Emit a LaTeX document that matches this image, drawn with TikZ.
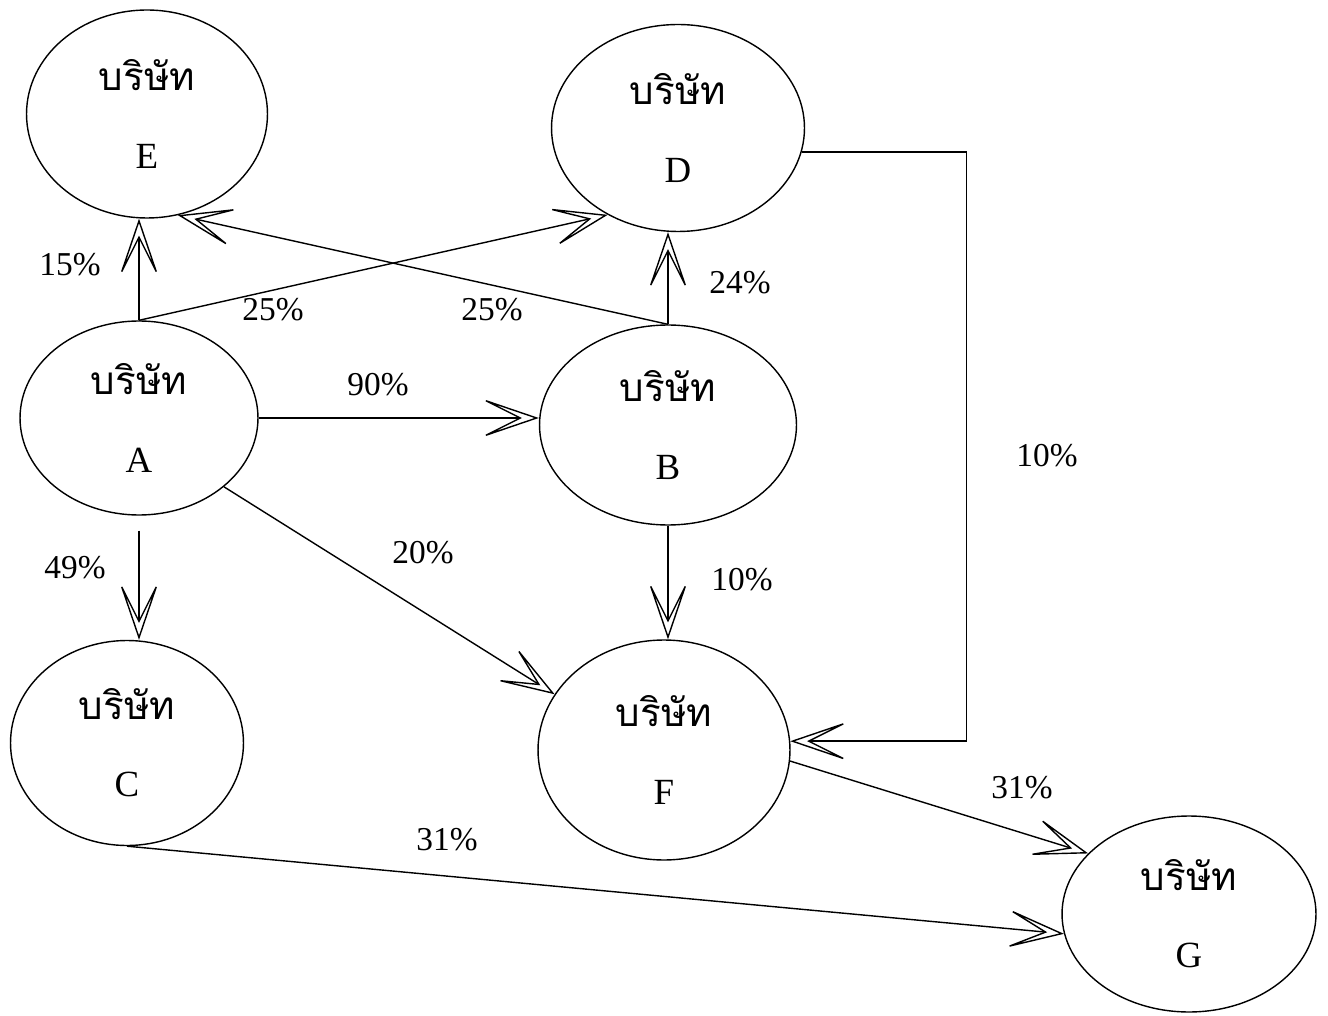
\documentclass[tikz,border=0pt]{standalone}
\usepackage{fontspec}
\setmainfont{Liberation Serif}
\newfontfamily\thaifont[Script=Thai]{Loma}
\usetikzlibrary{shapes.geometric,arrows.meta}
\tikzset{
  comp/.style={draw, line width=0.8pt, ellipse, inner sep=0pt, align=center, font=\fontsize{21}{24}\selectfont},
  arr/.style={line width=0.8pt, -{Stealth[open,length=1.25cm,width=0.85cm,inset=0.85cm]}},
  pct/.style={font=\fontsize{19}{22}\selectfont}
}
\newcommand{\compname}[1]{{\thaifont\fontsize{22}{24}\selectfont บริษัท}\\[7mm]#1}
\begin{document}
\begin{tikzpicture}[x=0.02cm,y=-0.02cm]
\useasboundingbox (0,0) rectangle (1328,1016);
% companies
\node[comp, minimum width=4.82cm, minimum height=4.16cm] (E) at (147,114) {\compname{E}};
\node[comp, minimum width=5.06cm, minimum height=4.14cm] (D) at (678,128) {\compname{D}};
\node[comp, minimum width=4.76cm, minimum height=3.88cm] (A) at (139,418) {\compname{A}};
\node[comp, minimum width=5.14cm, minimum height=4.0cm] (B) at (668,425) {\compname{B}};
\node[comp, minimum width=4.66cm, minimum height=4.1cm] (C) at (127,743) {\compname{C}};
\node[comp, minimum width=5.04cm, minimum height=4.4cm] (F) at (664,750) {\compname{F}};
\node[comp, minimum width=5.08cm, minimum height=3.92cm] (G) at (1189,914) {\compname{G}};
% connectors
\draw[arr] (A.north) -- (A.north |- E.south);
\draw[arr] (A.north) -- (D.231);
\draw[arr] (B.north) -- (E.287);
\draw[arr] (B.north) -- (B.north |- D.south);
\draw[arr] (A.east) -- (A.east -| B.west);
\draw[arr] (A.321) -- (F.153);
\draw[arr, shorten <=0.3cm] (A.south) -- (A.south |- C.north);
\draw[arr] (B.south) -- (B.south |- F.north);
\draw[arr] (D.349) -- ++(165,0) |- (F.4);
\draw[arr] (F.355) -- (G.149);
\draw[arr] (C.south) -- (G.189);
% labels
\node[pct] (l15) at (70,265) {15\%};
\node[pct] (l25a) at (273,310) {25\%};
\node[pct] (l25b) at (492,310) {25\%};
\node[pct] (l24) at (740,283) {24\%};
\node[pct] (l90) at (378,385) {90\%};
\node[pct] (l20) at (423,553) {20\%};
\node[pct] (l49) at (75,568) {49\%};
\node[pct] (l10a) at (742,580) {10\%};
\node[pct] (l10b) at (1047,456) {10\%};
\node[pct] (l31a) at (1022,788) {31\%};
\node[pct] (l31b) at (447,840) {31\%};
\end{tikzpicture}
\end{document}
